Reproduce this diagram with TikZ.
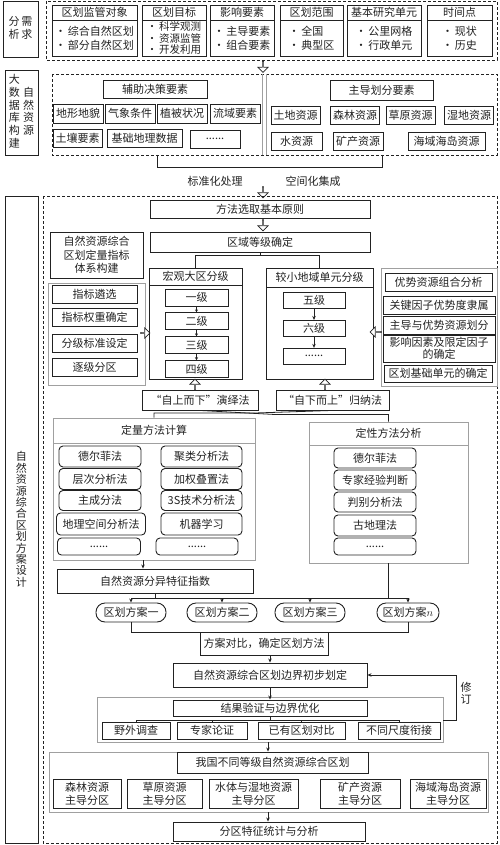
\documentclass[tikz,border=0pt]{standalone}
\usepackage{fontspec}
\setmainfont{Noto Sans CJK SC}
\usetikzlibrary{arrows.meta,positioning,shapes.arrows,calc}
\definecolor{Ink}{HTML}{222222}
\definecolor{Frame}{HTML}{A0A0A0}

\begin{document}
\begin{tikzpicture}[x=1pt,y=-1pt,
    every node/.style={font=\fontsize{11}{13}\selectfont,text=Ink},
    box/.style={draw=Ink,line width=0.9pt,inner sep=1pt,align=center},
    gbox/.style={draw=Frame,line width=0.9pt,inner sep=1pt,align=center},
    rbox/.style={box,rounded corners=4pt},
    oval/.style={box,rounded corners=9pt},
    lab/.style={box,font=\fontsize{11}{11.4}\selectfont},
    frame/.style={draw=Ink,line width=0.9pt,dash pattern=on 3pt off 2pt},
    grp/.style={draw=Frame,line width=0.9pt},
    ln/.style={draw=Ink,line width=0.8pt},
    arr/.style={-{Stealth[length=4pt,width=3.5pt]},draw=Ink,line width=0.8pt},
    hol/.style={single arrow,draw=Ink,fill=white,line width=0.7pt,inner sep=0pt,
      minimum width=10pt,minimum height=11pt,single arrow head extend=2.5pt}
  ]
    \useasboundingbox (0,0) rectangle (500,845);

    \node[lab,minimum width=35pt,minimum height=56pt] (xq) at (20.5,29)
      {\begin{tabular}{@{}c@{\,}c@{}}分&需\\析&求\end{tabular}};
    \draw[frame] (46,1) rectangle (497,60);
    \node[box,minimum width=85pt,minimum height=15pt] (h1) at (94.5,12.5) {区划监管对象};
    \node[box,minimum width=85pt,minimum height=36pt,align=left,font=\fontsize{11}{14}\selectfont] (b1) at (94.5,38)
      {·\,综合自然区划\\·\,部分自然区划};
    \node[box,minimum width=64pt,minimum height=15pt] (h2) at (174,12.5) {区划目标};
    \node[box,minimum width=64pt,minimum height=36pt,align=left,font=\fontsize{10.5}{11.5}\selectfont] (b2) at (174,38)
      {·\,科学观测\\·\,资源监管\\·\,开发利用};
    \node[box,minimum width=64pt,minimum height=15pt] (h3) at (242,12.5) {影响要素};
    \node[box,minimum width=64pt,minimum height=36pt,align=left,font=\fontsize{11}{14}\selectfont] (b3) at (242,38)
      {·\,主导要素\\·\,组合要素};
    \node[box,minimum width=63pt,minimum height=15pt] (h4) at (311.5,12.5) {区划范围};
    \node[box,minimum width=63pt,minimum height=36pt,align=left,font=\fontsize{11}{14}\selectfont] (b4) at (311.5,38)
      {·\,全国\\·\,典型区};
    \node[box,minimum width=74pt,minimum height=15pt] (h5) at (384,12.5) {基本研究单元};
    \node[box,minimum width=74pt,minimum height=36pt,align=left,font=\fontsize{11}{14}\selectfont] (b5) at (384,38)
      {·\,公里网格\\·\,行政单元};
    \node[box,minimum width=65pt,minimum height=15pt] (h6) at (459.5,12.5) {时间点};
    \node[box,minimum width=65pt,minimum height=36pt,align=left,font=\fontsize{11}{14}\selectfont] (b6) at (459.5,38)
      {·\,现状\\·\,历史};
    \node[hol,shape border rotate=270] (ha1) at (263,66.5) {};

    \node[lab,minimum width=33pt,minimum height=85pt] (sj) at (21.5,112.5)
      {\begin{tabular}{@{}c@{}}大\\数\\据\\库\\构\\建\end{tabular}\hspace{3pt}%
       \begin{tabular}{@{}c@{}}自\\然\\资\\源\end{tabular}};
    \draw[frame] (52,74) rectangle (497,155);
    \draw[Frame,line width=0.8pt] (262,74) -- (262,155) (266,74) -- (266,155);
    \node[box,minimum width=104pt,minimum height=18pt] (fz) at (155,89) {辅助决策要素};
    \node[box,minimum width=50pt,minimum height=19pt] (d1) at (78,113.5) {地形地貌};
    \node[box,minimum width=50pt,minimum height=19pt] (d2) at (130,113.5) {气象条件};
    \node[box,minimum width=50pt,minimum height=19pt] (d3) at (182,113.5) {植被状况};
    \node[box,minimum width=50pt,minimum height=19pt] (d4) at (235,113.5) {流域要素};
    \node[box,minimum width=49pt,minimum height=18pt] (d5) at (77.5,138) {土壤要素};
    \node[box,minimum width=75pt,minimum height=18pt] (d6) at (144.5,138) {基础地理数据};
    \node[box,minimum width=50pt,minimum height=18pt] (d7) at (215,139) {......};
    \node[box,minimum width=103pt,minimum height=20pt] (zd) at (381.5,90) {主导划分要素};
    \node[box,minimum width=49pt,minimum height=18pt] (z1) at (295.5,115) {土地资源};
    \node[box,minimum width=49pt,minimum height=18pt] (z2) at (355,115) {森林资源};
    \node[box,minimum width=49pt,minimum height=18pt] (z3) at (410.5,115) {草原资源};
    \node[box,minimum width=49pt,minimum height=18pt] (z4) at (469,115) {湿地资源};
    \node[box,minimum width=51pt,minimum height=18pt] (z5) at (296.5,141) {水资源};
    \node[box,minimum width=50pt,minimum height=18pt] (z6) at (358,141) {矿产资源};
    \node[box,minimum width=77pt,minimum height=18pt] (z7) at (446.5,141) {海域海岛资源};
    \draw[ln] (157,155) |- (382,167) -- (382,155);
    \node (bz) at (215,181) {标准化处理};
    \node (kj) at (313,181) {空间化集成};
    \node[hol,shape border rotate=270] (ha2) at (263,192) {};

    \node[lab,minimum width=33pt,minimum height=647pt,align=center] (fa) at (21.5,519.5)
      {自\\然\\资\\源\\综\\合\\区\\划\\方\\案\\设\\计};
    \draw[frame] (43,196) rectangle (497,843);
    \node[box,minimum width=220pt,minimum height=18pt] (ff) at (260,209) {方法选取基本原则};
    \node[hol,shape border rotate=270] (ha3) at (263,225) {};
    \node[box,minimum width=220pt,minimum height=20pt] (qy) at (260,242) {区域等级确定};
    \node[box,minimum width=93pt,minimum height=46pt,font=\fontsize{11}{13.5}\selectfont] (zb) at (96.5,255)
      {自然资源综合\\区划定量指标\\体系构建};

    \draw[grp] (48,283) rectangle (145,385);
    \node[box,minimum width=85pt,minimum height=18pt] (l1) at (94.5,294.5) {指标遴选};
    \node[box,minimum width=85pt,minimum height=18pt] (l2) at (94.5,317.5) {指标权重确定};
    \node[box,minimum width=85pt,minimum height=18pt] (l3) at (94.5,343.5) {分级标准设定};
    \node[box,minimum width=85pt,minimum height=18pt] (l4) at (94.5,367.5) {逐级分区};
    \node[hol,minimum height=9pt] (ha4) at (145,333) {};

    \node[box,minimum width=93pt,minimum height=17pt] (mac) at (195.5,276.5) {宏观大区分级};
    \node[box,minimum width=93pt,minimum height=94pt] (macb) at (195.5,332) {};
    \node[box,minimum width=63pt,minimum height=17pt] (m1) at (196.5,297.5) {一级};
    \node[box,minimum width=63pt,minimum height=17pt,below=6pt of m1] (m2) {二级};
    \node[box,minimum width=63pt,minimum height=17pt,below=6pt of m2] (m3) {三级};
    \node[box,minimum width=63pt,minimum height=17pt,below=6pt of m3] (m4) {四级};
    \foreach \a/\b in {m1/m2,m2/m3,m3/m4}\draw[arr,-{Stealth[length=3pt,width=3pt]}](\a)--(\b);

    \node[box,minimum width=107pt,minimum height=19pt] (sma) at (319.5,277.5) {较小地域单元分级};
    \node[box,minimum width=107pt,minimum height=92pt] (smab) at (319.5,333) {};
    \node[box,minimum width=62pt,minimum height=16pt] (s1) at (314,300.5) {五级};
    \node[box,minimum width=62pt,minimum height=16pt,below=11pt of s1] (s2) {六级};
    \node[box,minimum width=62pt,minimum height=16pt,below=11pt of s2] (s3) {......};
    \foreach \a/\b in {s1/s2,s2/s3}\draw[arr](\a)--(\b);

    \draw[ln] (qy.south) -- ++(0,3) coordinate (fk);
    \draw[ln] (mac.north) |- (fk) -| (sma.north);

    \draw[grp] (381,268) rectangle (497,386);
    \node[box,minimum width=107pt,minimum height=18pt] (r1) at (438.5,282) {优势资源组合分析};
    \node[box,minimum width=112pt,minimum height=18pt] (r2) at (439,305) {关键因子优势度隶属};
    \node[box,minimum width=112pt,minimum height=18pt] (r3) at (439,325) {主导与优势资源划分};
    \node[box,minimum width=112pt,minimum height=27pt,font=\fontsize{11}{12}\selectfont] (r4) at (439,348.5)
      {影响因素及限定因子\\的确定};
    \node[box,minimum width=108pt,minimum height=17pt] (r5) at (438,373.5) {区划基础单元的确定};
    \node[hol,shape border rotate=180] (ha5) at (376,332) {};

    \node[hol,shape border rotate=90] (ha6) at (195,385) {};
    \node[hol,shape border rotate=90] (ha7) at (325,385) {};
    \node[box,minimum width=116pt,minimum height=20pt] (yy) at (200,400) {“自上而下”演绎法};
    \node[box,minimum width=113pt,minimum height=20pt] (gn) at (332.5,400) {“自下而上”归纳法};

    \node[gbox,minimum width=202pt,minimum height=25pt] (dl) at (154,430.5) {定量方法计算};
    \node[gbox,minimum width=202pt,minimum height=117pt] (dlb) at (154,501.5) {};
    \node[rbox,minimum width=82pt,minimum height=21pt] (q1) at (100,456.5) {德尔菲法};
    \node[rbox,minimum width=82pt,minimum height=21pt] (q2) at (100,479) {层次分析法};
    \node[rbox,minimum width=82pt,minimum height=20pt] (q3) at (100,500.5) {主成分法};
    \node[rbox,minimum width=89pt,minimum height=22pt] (q4) at (101,524) {地理空间分析法};
    \node[rbox,minimum width=83pt,minimum height=17pt] (q5) at (99,546.5) {......};
    \node[rbox,minimum width=81pt,minimum height=21pt] (p1) at (201.5,456.5) {聚类分析法};
    \node[rbox,minimum width=81pt,minimum height=21pt] (p2) at (201.5,479) {加权叠置法};
    \node[rbox,minimum width=81pt,minimum height=20pt] (p3) at (201.5,500.5) {3S技术分析法};
    \node[rbox,minimum width=81pt,minimum height=22pt] (p4) at (201.5,524) {机器学习};
    \node[rbox,minimum width=82pt,minimum height=17pt] (p5) at (197,546.5) {......};

    \node[gbox,minimum width=159pt,minimum height=23pt] (dx) at (388.5,433.5) {定性方法分析};
    \node[gbox,minimum width=159pt,minimum height=118pt] (dxb) at (388.5,504) {};
    \node[rbox,minimum width=82pt,minimum height=20pt] (x1) at (375,458) {德尔菲法};
    \node[rbox,minimum width=82pt,minimum height=20pt] (x2) at (375,480) {专家经验判断};
    \node[rbox,minimum width=82pt,minimum height=20pt] (x3) at (375,502) {判别分析法};
    \node[rbox,minimum width=82pt,minimum height=21pt] (x4) at (375,525.5) {古地理法};
    \node[rbox,minimum width=82pt,minimum height=17pt] (x5) at (375,546.5) {......};

    \draw[ln] (dl.north) |- (255,413) -- (gn.south);
    \draw[ln] (yy.south) -- (275,414.5) -| (dx.north);

    \node[box,minimum width=196pt,minimum height=24pt] (fy) at (155,581) {自然资源分异特征指数};
    \draw[arr] ($(dlb.south)+(-11,0)$) -- ($(fy.north)+(-12,0)$);

    \node[oval,minimum width=70pt,minimum height=19pt] (f1) at (131,612.5) {区划方案一};
    \node[oval,minimum width=70pt,minimum height=19pt] (f2) at (222,612.5) {区划方案二};
    \node[oval,minimum width=70pt,minimum height=19pt] (f3) at (310,612.5) {区划方案三};
    \node[oval,minimum width=62pt,minimum height=19pt] (f4) at (408,612.5) {区划方案$n$};
    \coordinate (bus) at (0,598);
    \draw[ln] (fy.south) -- (fy.south |- bus);
    \draw[ln] (dxb.south) -- (dxb.south |- bus);
    \draw[ln] (f1.north |- bus) -- (f4.north |- bus);
    \foreach \f in {f1,f2,f3,f4}\draw[arr] (\f.north |- bus) -- (\f.north);

    \coordinate (bk) at (0,632);
    \draw[ln] (f1.south) |- (f4.south |- bk) -- (f4.south);
    \node[box,minimum width=128pt,minimum height=23pt] (db) at (264,643.5) {方案对比，确定区划方法};
    \node[box,minimum width=194pt,minimum height=24pt] (bj) at (270,675) {自然资源综合区划边界初步划定};
    \draw[arr] (db.south -| bj.north) -- (bj.north);

    \draw[grp] (97,697) rectangle (443,742);
    \node[box,minimum width=194pt,minimum height=16pt] (jy) at (270,708) {结果验证与边界优化};
    \node[box,minimum width=68pt,minimum height=17pt] (v1) at (136,730.5) {野外调查};
    \node[box,minimum width=70pt,minimum height=17pt] (v2) at (212,730.5) {专家论证};
    \node[box,minimum width=87pt,minimum height=17pt] (v3) at (301.5,730.5) {已有区划对比};
    \node[box,minimum width=82pt,minimum height=17pt] (v4) at (399,730.5) {不同尺度衔接};
    \coordinate (vt) at (0,720);
    \draw[ln] (jy.south) -- (jy.south |- vt);
    \draw[ln] (v1.north |- vt) -- (v4.north |- vt);
    \foreach \v in {v1,v2,v3,v4}\draw[ln] (\v.north |- vt) -- (\v.north);
    \draw[arr] (bj.south) -- (jy.north);

    \coordinate (g1e) at (443,720);
    \draw[arr] (g1e) -- ++(13,0) |- (bj.east);
    \node[font=\fontsize{11}{12}\selectfont,align=center] (xd) at (466,693) {修\\订};

    \coordinate (g1s) at (268,742);
    \draw[grp] (49,752) rectangle (488,812);
    \node[box,minimum width=191pt,minimum height=21pt] (wg) at (272.5,762.5) {我国不同等级自然资源综合区划};
    \draw[arr] (g1s) -- (g1s |- wg.north);
    \node[box,minimum width=68pt,minimum height=29pt] (k1) at (87,793.5) {森林资源\\主导分区};
    \node[box,minimum width=75pt,minimum height=29pt] (k2) at (164.5,793.5) {草原资源\\主导分区};
    \node[box,minimum width=89pt,minimum height=29pt] (k3) at (253.5,793.5) {水体与湿地资源\\主导分区};
    \node[box,minimum width=80pt,minimum height=29pt] (k4) at (360,793.5) {矿产资源\\主导分区};
    \node[box,minimum width=76pt,minimum height=29pt] (k5) at (448,793.5) {海域海岛资源\\主导分区};

    \coordinate (g2s) at (268,812);
    \node[box,minimum width=192pt,minimum height=19pt] (fx) at (269,831.5) {分区特征统计与分析};
    \draw[arr] (g2s) -- (g2s |- fx.north);
  \end{tikzpicture}
\end{document}
